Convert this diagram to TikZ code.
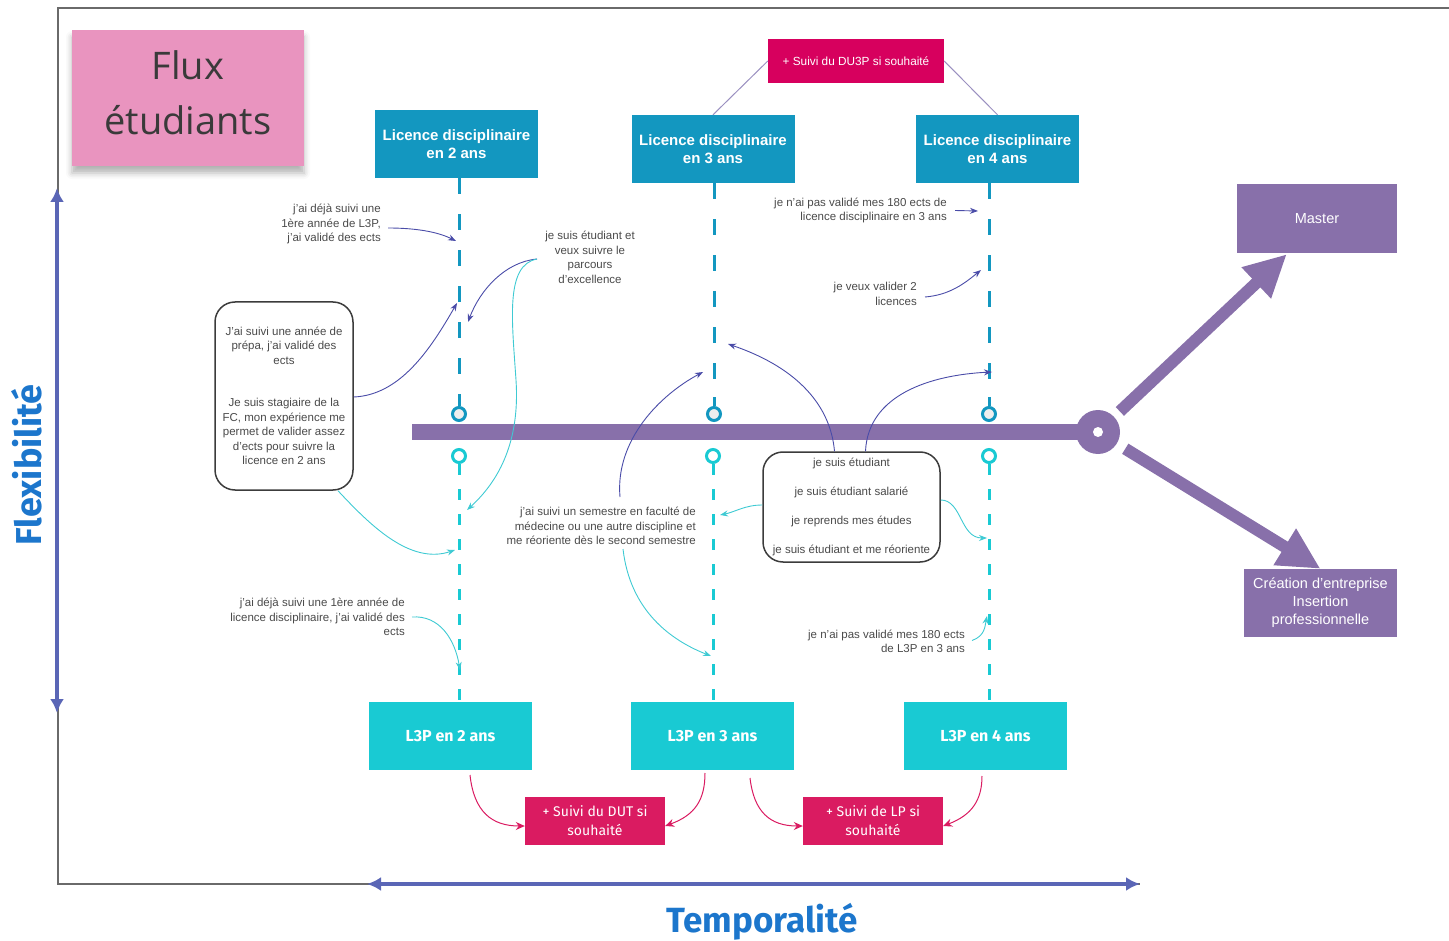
\documentclass[tikz,border=0pt]{standalone}
\usepackage{fontspec}
\setmainfont{Liberation Sans}
\newfontfamily\firaf{Fira Sans}
\newfontfamily\opensf{Open Sans}
\usetikzlibrary{arrows.meta,shadows.blur,calc}
\definecolor{tealdark}{HTML}{1397C0}
\definecolor{teallight}{HTML}{19CAD3}
\definecolor{purp}{HTML}{8870AA}
\definecolor{magentab}{HTML}{D7005E}
\definecolor{pinkr}{HTML}{DA1B61}
\definecolor{stickypink}{HTML}{E994BF}
\definecolor{axisblue}{HTML}{5A66B6}
\definecolor{labelblue}{HTML}{1C76CC}
\definecolor{arrowblue}{HTML}{4A4CA8}
\definecolor{arrowteal}{HTML}{3FCAD3}
\definecolor{txtgray}{HTML}{4A4A4A}
\definecolor{fluxtext}{HTML}{3A3A3A}
\definecolor{ringfill}{HTML}{EEEEEE}
\definecolor{boxborder}{HTML}{3C3C3C}
\definecolor{framegray}{HTML}{6A6A6A}
\definecolor{linkgray}{HTML}{9A90C0}
\begin{document}
\begin{tikzpicture}[x=1pt,y=-1pt,
 txt/.style={font=\fontsize{11.5}{14.5}\selectfont, text=txtgray, inner sep=0pt},
 topbox/.style={fill=tealdark, text=white, font=\fontsize{15}{18}\selectfont\bfseries, align=center, minimum width=163pt, minimum height=68pt, inner sep=0pt},
 botbox/.style={fill=teallight, text=white, font=\firaf\fontsize{16}{18}\selectfont\bfseries, minimum width=163pt, minimum height=68pt, inner sep=0pt},
 optbox/.style={fill=pinkr, text=white, font=\firaf\fontsize{14}{19}\selectfont, align=center, minimum width=140pt, minimum height=48pt, inner sep=0pt},
 outbox/.style={fill=purp, text=white, font=\fontsize{14.5}{18}\selectfont, align=center, inner sep=0pt},
 dashtop/.style={draw=tealdark, line width=3pt, dash pattern=on 16pt off 20pt},
 dashbot/.style={draw=teallight, line width=3pt, dash pattern=on 11pt off 14pt},
 ringtop/.style={circle, draw=tealdark, line width=3pt, fill=ringfill, minimum size=13pt, inner sep=0pt},
 ringbot/.style={circle, draw=teallight, line width=3pt, fill=white, minimum size=13pt, inner sep=0pt},
 barrow/.style={draw=arrowblue, line width=0.9pt, -{Stealth[length=8pt,width=6pt]}},
 tarrow/.style={draw=arrowteal, line width=0.9pt, -{Stealth[length=8pt,width=6pt]}},
 parrow/.style={draw=pinkr, line width=1pt, -{Stealth[length=9pt,width=8pt]}},
 bigarrow/.style={draw=purp, line width=12pt, -{Triangle[length=42pt,width=40pt]}},
 rbox/.style={draw=boxborder, line width=1.5pt, rounded corners=20pt, fill=white, align=center, font=\fontsize{11.5}{14.5}\selectfont, text=txtgray, inner sep=0pt},
 axisarrow/.style={draw=axisblue, line width=4pt, {Latex[length=14pt,width=14pt]}-{Latex[length=14pt,width=14pt]}}
]
\useasboundingbox (0,0) rectangle (1449,941);

% frame
\draw[framegray, line width=1.5pt] (1449,8) -- (58,8) -- (58,884) -- (1140,884);
\draw[axisarrow] (57,713) -- (57,188);
\draw[axisarrow] (367,884) -- (1140,884);
\node[rotate=90, font=\firaf\fontsize{36}{36}\selectfont\bfseries, text=labelblue] (flex) at (27,465) {Flexibilité};
\node[font=\firaf\fontsize{35}{35}\selectfont\bfseries, text=labelblue] (temp) at (762,922) {Temporalité};

% sticky
\node[fill=stickypink, minimum width=232pt, minimum height=136pt, inner sep=0pt,
 blur shadow={shadow xshift=0pt, shadow yshift=-7pt, shadow opacity=30, shadow blur radius=6pt}] (flux) at (188,98) {};
\node[align=center, font=\opensf\fontsize{38}{55}\selectfont, text=fluxtext, inner sep=0pt] (fluxlbl) at (188,93) {Flux\\étudiants};

% top boxes
\node[topbox] (L2) at (456.5,144) {Licence disciplinaire\\en 2 ans};
\node[topbox] (L3) at (713,149) {Licence disciplinaire\\en 3 ans};
\node[topbox] (L4) at (997.5,149) {Licence disciplinaire\\en 4 ans};
\node[fill=magentab, text=white, font=\fontsize{11.8}{13}\selectfont, minimum width=176pt, minimum height=44pt, inner sep=0pt] (du) at (856,61) {+ Suivi du DU3P si souhaité};
\draw[linkgray, line width=1pt] (du.west) -- (L3.north);
\draw[linkgray, line width=1pt] (du.east) -- (L4.north);

% bottom boxes
\node[botbox] (B2) at (450.5,736) {L3P en 2 ans};
\node[botbox] (B3) at (712.5,736) {L3P en 3 ans};
\node[botbox] (B4) at (985.5,736) {L3P en 4 ans};
\node[optbox] (dut) at (595,821) {+ Suivi du DUT si\\souhaité};
\node[optbox] (lp) at (873,821) {+ Suivi de LP si\\souhaité};

% outputs
\node[outbox, minimum width=160pt, minimum height=69pt] (master) at (1317,218.5) {Master};
\node[outbox, minimum width=153pt, minimum height=68pt] (crea) at (1320.5,603) {Création d'entreprise\\Insertion\\professionnelle};

% main bar
\node[fill=purp, minimum width=676pt, minimum height=16pt, inner sep=0pt] (bar) at (750,432) {};
\node[circle, fill=purp, minimum size=44pt, inner sep=0pt] (hub) at (1098,432) {};
\fill[white] (hub.center) circle (5pt);
\draw[bigarrow, shorten <=30pt] (hub.center) -- ($(master.south west)+(50,1)$);
\draw[bigarrow, shorten <=32pt] (hub.center) -- (crea.north);

% rings
\node[ringtop] (r2) at (459,414) {};
\node[ringtop] (r3) at (714,414) {};
\node[ringtop] (r4) at (989,414) {};
\node[ringbot] (q2) at (459,456) {};
\node[ringbot] (q3) at (713,456) {};
\node[ringbot] (q4) at (989,456) {};

% dashed timelines
\draw[dashtop] (r2 |- L2.south) -- (r2.north);
\draw[dashtop] (r3 |- L3.south) -- (r3.north);
\draw[dashtop] (r4 |- L4.south) -- (r4.north);
\draw[tealdark, line width=3pt] (r2.north) -- ++(0,-9);
\draw[tealdark, line width=3pt] (r3.north) -- ++(0,-9);
\draw[tealdark, line width=3pt] (r4.north) -- ++(0,-9);
\draw[dashbot] (q2.south) -- (q2 |- B2.north);
\draw[dashbot] (q3.south) -- (q3 |- B3.north);
\draw[dashbot] (q4.south) -- (q4 |- B4.north);
\draw[teallight, line width=3pt] (q2.south) -- ++(0,9);
\draw[teallight, line width=3pt] (q3.south) -- ++(0,9);
\draw[teallight, line width=3pt] (q4.south) -- ++(0,9);

% rounded boxes
\node[rbox, minimum width=138pt, minimum height=188pt] (lb) at (284,396)
 {J'ai suivi une année de\\prépa, j'ai validé des\\ects\\[28pt]Je suis stagiaire de la\\FC, mon expérience me\\permet de valider assez\\d'ects pour suivre la\\licence en 2 ans};
\node[rbox, minimum width=177pt, minimum height=110pt] (mb) at (851.5,507)
 {je suis étudiant\\[14.5pt]je suis étudiant salarié\\[14.5pt]je reprends mes études\\[14.5pt]je suis étudiant et me réoriente};

% texts
\node[txt, anchor=east, align=right] (t1) at (381,224) {j'ai déjà suivi une\\1ère année de L3P,\\j'ai validé des ects};
\node[txt, align=center] (t2) at (590,257.5) {je suis étudiant et\\veux suivre le\\parcours\\d'excellence};
\node[txt, anchor=east, align=right] (t3) at (947,210.5) {je n'ai pas validé mes 180 ects de\\licence disciplinaire en 3 ans};
\node[txt, anchor=east, align=right] (t4) at (917,294) {je veux valider 2\\licences};
\node[txt, anchor=east, align=right] (t5) at (696,526) {j'ai suivi un semestre en faculté de\\médecine ou une autre discipline et\\me réoriente dès le second semestre};
\node[txt, anchor=east, align=right] (t6) at (405,617) {j'ai déjà suivi une 1ère année de\\licence disciplinaire, j'ai validé des\\ects};
\node[txt, anchor=east, align=right] (t7) at (965,641.5) {je n'ai pas validé mes 180 ects\\de L3P en 3 ans};

% arrow anchors
\coordinate (a1) at (456,241);
\coordinate (a2) at (457,303);
\coordinate (a3) at (468,322);
\coordinate (a4) at (467,510);
\coordinate (a5) at (455,550);
\coordinate (a6) at (978,211);
\coordinate (a7) at (981,270);
\coordinate (a8) at (728,344);
\coordinate (a9) at (992,372);
\coordinate (a10) at (720,515);
\coordinate (a11) at (987,538);
\coordinate (a12) at (703,372);
\coordinate (a13) at (711,656);
\coordinate (a14) at (460,670);
\coordinate (a15) at (987,616);
\coordinate (p1s) at (470,775);
\coordinate (p2s) at (705,773);
\coordinate (p3s) at (750,778);
\coordinate (p4s) at (982,776);
\coordinate (t2l) at (537,259);

\draw[barrow] ($(t1.east)+(7,4)$) .. controls (420,228) and (440,233) .. (a1);
\draw[barrow] (lb.east) ++(0,1) .. controls (400,395) and (430,350) .. (a2);
\draw[barrow] (t2l) .. controls (505,262) and (480,290) .. (a3);
\draw[tarrow] (t2l) .. controls (505,265) and (512,320) .. (516,380) .. controls (520,440) and (500,480) .. (a4);
\draw[tarrow] ($(lb.south)+(54,0)$) .. controls (370,525) and (410,565) .. (a5);
\draw[barrow] ($(t3.east)+(8,0)$) -- (a6);
\draw[barrow] ($(t4.east)+(8,3)$) .. controls (950,295) and (965,283) .. (a7);
\draw[barrow] ($(mb.north)+(-17,0)$) .. controls (830,400) and (790,365) .. (a8);
\draw[barrow] ($(mb.north)+(14,0)$) .. controls (868,395) and (930,375) .. (a9);
\draw[tarrow] ($(mb.west)+(0,-2)$) .. controls (745,505) and (735,512) .. (a10);
\draw[tarrow] ($(mb.east)+(0,-7)$) .. controls (962,500) and (960,538) .. (a11);
\draw[barrow] (620,497) .. controls (615,440) and (660,395) .. (a12);
\draw[tarrow] (623,549) .. controls (630,610) and (670,640) .. (a13);
\draw[tarrow] ($(t6.east)+(7,0)$) .. controls (440,615) and (455,640) .. (a14);
\draw[tarrow] ($(t7.east)+(7,-1)$) .. controls (985,636) and (985,626) .. (a15);

\draw[parrow] (p1s) .. controls (474,812) and (492,826) .. (dut.west |- 0,826);
\draw[parrow] (p2s) .. controls (705,800) and (695,815) .. (dut.east |- 0,826);
\draw[parrow] (p3s) .. controls (754,812) and (770,826) .. (lp.west |- 0,826);
\draw[parrow] (p4s) .. controls (982,800) and (972,815) .. (lp.east |- 0,826);
\end{tikzpicture}
\end{document}
